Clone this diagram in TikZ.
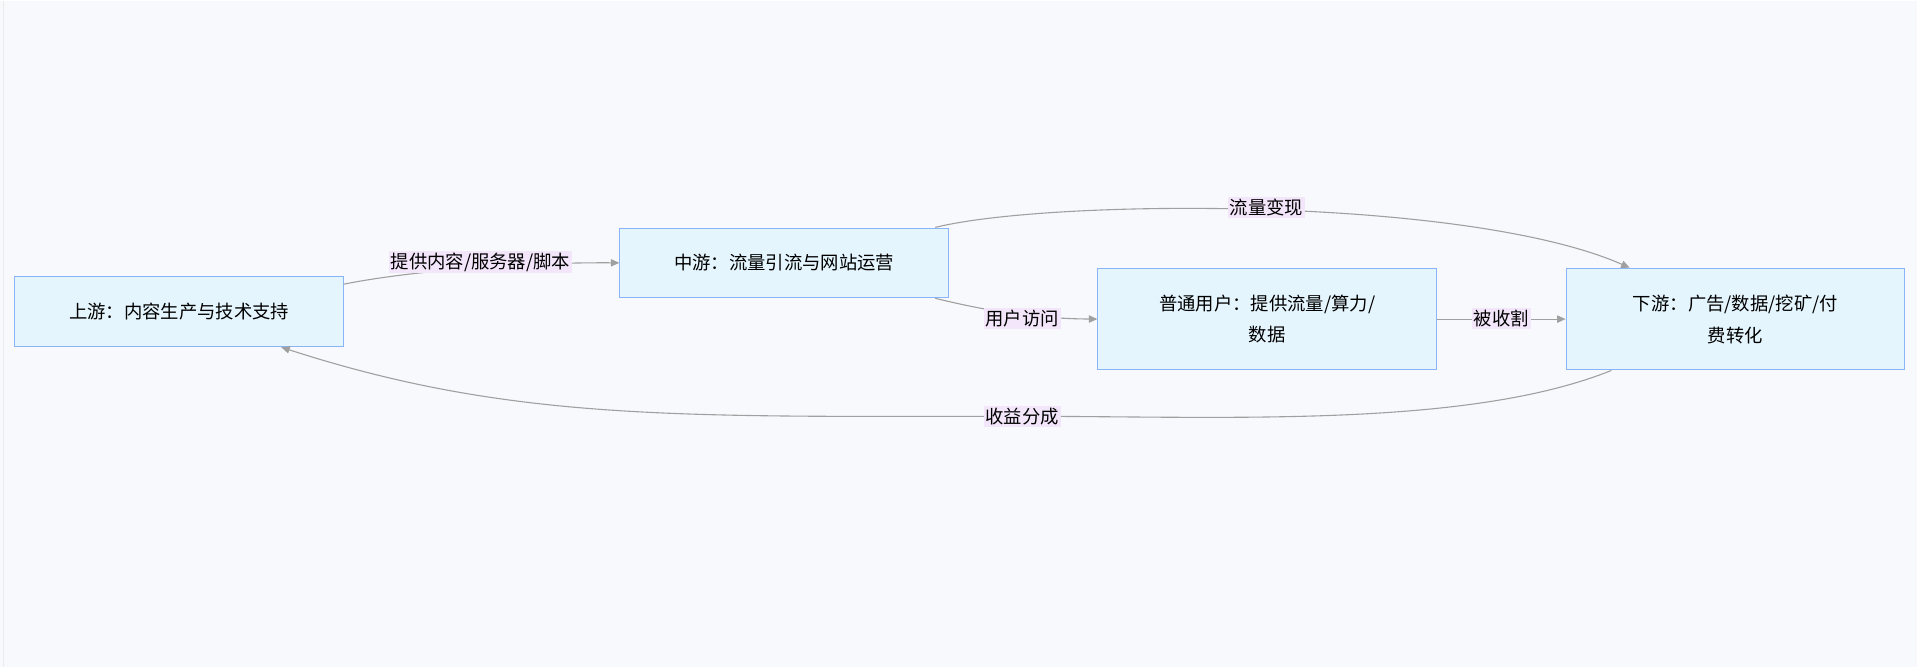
\documentclass[tikz,border=0pt]{standalone}
\usepackage{fontspec}
\setmainfont{Noto Sans CJK SC}
\usetikzlibrary{arrows.meta}
\definecolor{bg}{HTML}{F8F9FC}
\definecolor{boxfill}{HTML}{E5F5FD}
\definecolor{boxline}{HTML}{8AB4F8}
\definecolor{edge}{HTML}{A0A0A0}
\definecolor{lblbg}{HTML}{F3E6FB}
\begin{document}
\begin{tikzpicture}[x=1pt,y=-1pt,
  box/.style={draw=boxline,fill=boxfill,line width=0.8pt,minimum height=57pt,inner sep=0pt,align=center,font=\fontsize{15}{26}\selectfont},
  tall/.style={minimum height=83pt},
  conn/.style={draw=edge,line width=0.9pt,-{Triangle[length=7pt,width=6pt]}},
  lbl/.style={fill=lblbg,inner sep=1.5pt,font=\fontsize{15}{18}\selectfont}]
\fill[bg] (0,0) rectangle (1568,545);
\draw[black!8,line width=1pt] (3,0) -- (3,545);
\useasboundingbox (0,0) rectangle (1568,545);
\node[box,minimum width=269pt] (up) at (146.5,254.5) {上游：内容生产与技术支持};
\node[box,minimum width=269pt] (mid) at (641.5,214.5) {中游：流量引流与网站运营};
\node[box,tall,minimum width=277pt] (user) at (1036.5,260.5) {普通用户：提供流量/算力/\\数据};
\node[box,tall,minimum width=277pt] (down) at (1419.5,260.5) {下游：广告/数据/挖矿/付\\费转化};
\coordinate (a1) at (281,232);
\draw[conn] (a1) .. controls (330,222) and (420,214) .. (mid.west);
\node[lbl] at (393,214) {提供内容/服务器/脚本};
\coordinate (b1) at (765,185.5);
\coordinate (b2) at (1333,218.5);
\draw[conn] (b1) .. controls (860,162) and (1200,160) .. (b2);
\node[lbl] at (1036,169) {流量变现};
\coordinate (c1) at (765,243.5);
\draw[conn] (c1) .. controls (800,252) and (840,260) .. (user.west);
\node[lbl] at (836,260) {用户访问};
\draw[conn] (user.east) -- (down.west);
\node[lbl] at (1228,260) {被收割};
\coordinate (d1) at (1318,302.5);
\coordinate (d2) at (230,283.5);
\draw[conn] (d1) .. controls (1200,350) and (1000,340) .. (836,340) .. controls (560,340) and (420,345) .. (d2);
\node[lbl] at (836,340) {收益分成};
\end{tikzpicture}
\end{document}
